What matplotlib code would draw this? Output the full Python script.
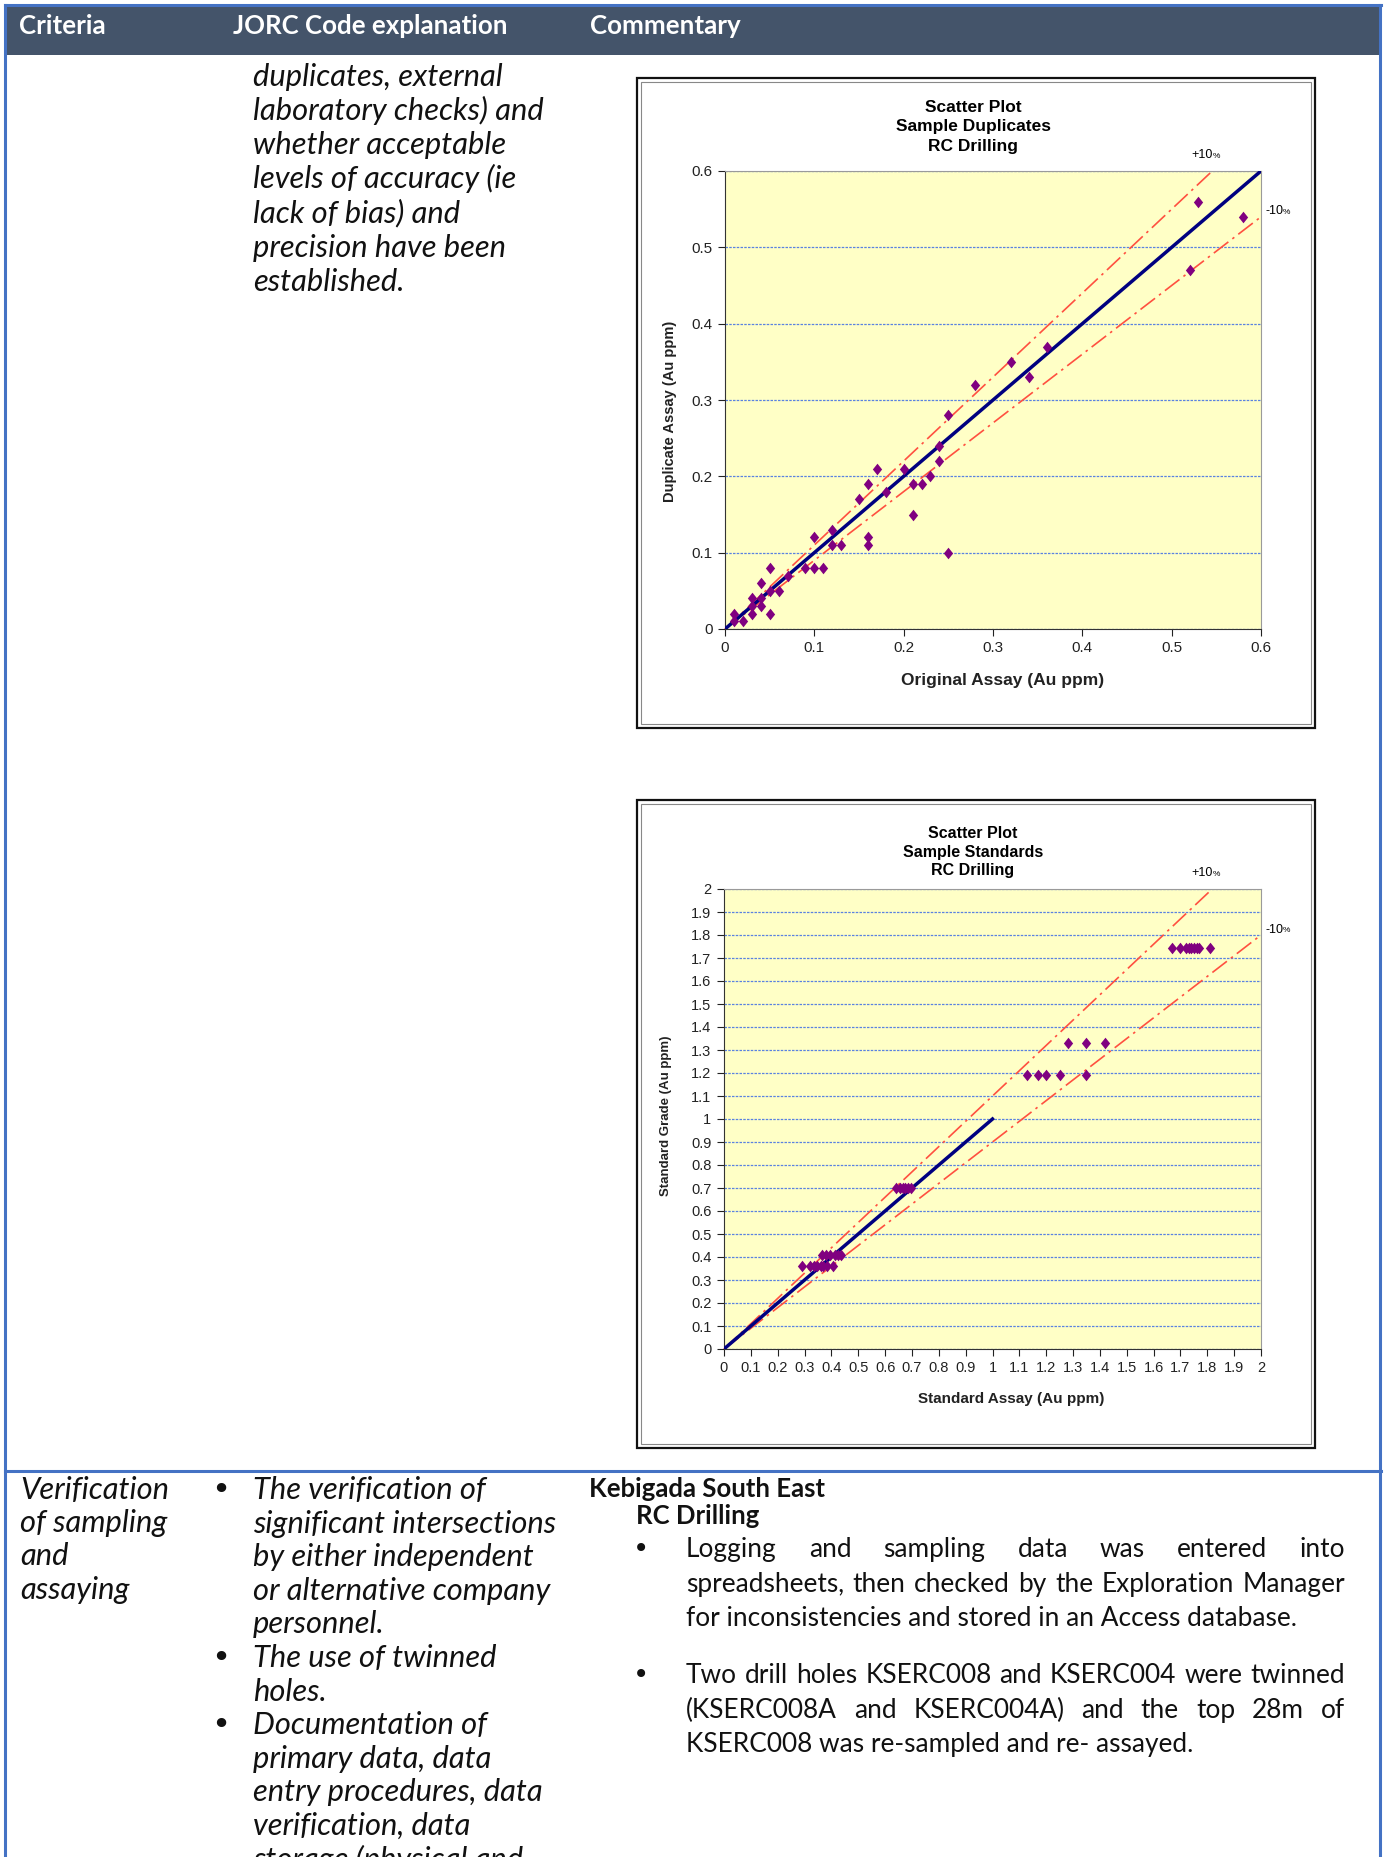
import matplotlib
matplotlib.use("Agg")
import matplotlib.pyplot as plt
from matplotlib.patches import Rectangle
from matplotlib.path import Path
from matplotlib.ticker import MultipleLocator, FuncFormatter
from matplotlib import font_manager

# ---- data ----
# Sample duplicates, RC drilling (Au ppm)
dup_original = [0.01, 0.01, 0.02, 0.03, 0.03, 0.03, 0.04, 0.04, 0.04, 0.05, 0.05, 0.05,
                0.06, 0.07, 0.09, 0.10, 0.10, 0.11, 0.12, 0.12, 0.13, 0.15, 0.16, 0.16,
                0.16, 0.17, 0.18, 0.20, 0.21, 0.21, 0.22, 0.23, 0.24, 0.24, 0.25, 0.25,
                0.28, 0.32, 0.34, 0.36, 0.52, 0.53, 0.58]
dup_duplicate = [0.02, 0.01, 0.01, 0.04, 0.03, 0.02, 0.06, 0.04, 0.03, 0.08, 0.05, 0.02,
                 0.05, 0.07, 0.08, 0.12, 0.08, 0.08, 0.13, 0.11, 0.11, 0.17, 0.19, 0.12,
                 0.11, 0.21, 0.18, 0.21, 0.19, 0.15, 0.19, 0.20, 0.22, 0.24, 0.28, 0.10,
                 0.32, 0.35, 0.33, 0.37, 0.47, 0.56, 0.54]

# Sample standards, RC drilling (Au ppm)
std_assay = [0.29, 0.32, 0.335, 0.345, 0.36, 0.37, 0.385, 0.405,
             0.365, 0.38, 0.395, 0.415, 0.425, 0.435,
             0.64, 0.655, 0.665, 0.675, 0.685, 0.695,
             1.13, 1.17, 1.20, 1.25, 1.35,
             1.28, 1.35, 1.42,
             1.67, 1.70, 1.72, 1.73, 1.74, 1.75, 1.76, 1.77, 1.81]
std_grade = [0.362] * 8 + [0.41] * 6 + [0.70] * 6 + [1.19] * 5 + [1.33] * 3 + [1.745] * 9

header_labels = ["Criteria", "JORC Code explanation", "Commentary"]

top_jorc_lines = ["duplicates, external", "laboratory checks) and", "whether acceptable",
                  "levels of accuracy (ie", "lack of bias) and", "precision have been",
                  "established."]

criteria_lines = ["Verification", "of sampling", "and", "assaying"]
jorc_bullets = [["The verification of", "significant intersections", "by either independent",
                 "or alternative company", "personnel."],
                ["The use of twinned", "holes."],
                ["Documentation of", "primary data, data", "entry procedures, data",
                 "verification, data", "storage (physical and"]]
comment_head = ["Kebigada South East", "RC Drilling"]
comment_bullets = [["Logging and sampling data was entered into",
                    "spreadsheets, then checked by the Exploration Manager",
                    "for inconsistencies and stored in an Access database."],
                   ["Two drill holes KSERC008 and KSERC004 were twinned",
                    "(KSERC008A and KSERC004A) and the top 28m of",
                    "KSERC008 was re-sampled and re- assayed."]]

W, H = 1385, 1857
fig = plt.figure(figsize=(W / 100, H / 100), dpi=100)
renderer = fig.canvas.get_renderer()

# canvas axes in pixel units, y down
cv = fig.add_axes([0, 0, 1, 1])
cv.set_xlim(0, W)
cv.set_ylim(H, 0)
cv.axis("off")

DOC = "Lato"
try:
    font_manager.findfont("Liberation Sans Narrow", fallback_to_default=False)
    NARROW = "Liberation Sans Narrow"
except Exception:
    NARROW = "Liberation Sans"


def fit_size(txt, target, **kw):
    t = cv.text(0, 0, txt, fontsize=10, **kw)
    w = t.get_window_extent(renderer).width
    t.remove()
    return 10 * target / w


def text_w(txt, **kw):
    t = cv.text(0, 0, txt, **kw)
    w = t.get_window_extent(renderer).width
    t.remove()
    return w


head_fs = fit_size("JORC Code explanation", 274, family=DOC, weight="bold")
ital_fs = fit_size("significant intersections", 303, family=DOC, style="italic")
body_fs = fit_size("spreadsheets, then checked by the Exploration Manager", 648, family=DOC)
bold_fs = fit_size("Kebigada South East", 236, family=DOC, weight="bold")

# ---- table frame ----
blue = "#4472C4"
cv.add_patch(Rectangle((5, 6), 1376, 49, facecolor="#44546A", edgecolor="none", zorder=1))
cv.plot([5, 1381], [5, 5], color=blue, lw=2.2, zorder=2)
cv.plot([5, 5], [5, H], color=blue, lw=2.2, zorder=2)
cv.plot([1380, 1380], [5, H], color=blue, lw=2.2, zorder=2)
cv.plot([5, 1381], [1471, 1471], color=blue, lw=2.2, zorder=2)

for lab, x in zip(header_labels, [19, 233, 590]):
    cv.text(x, 34, lab, family=DOC, weight="bold", fontsize=head_fs, color="white",
            va="baseline", ha="left", zorder=3)

# top row, second column (continued text)
for i, ln in enumerate(top_jorc_lines):
    cv.text(253, 86 + i * 34.1, ln, family=DOC, style="italic", fontsize=ital_fs,
            va="baseline", color="#111111")

# bottom row
for i, ln in enumerate(criteria_lines):
    cv.text(20, 1499 + i * 33.2, ln, family=DOC, style="italic", fontsize=ital_fs,
            va="baseline", color="#111111")

k = 0
for bl in jorc_bullets:
    for j, ln in enumerate(bl):
        y = 1499 + k * 33.6
        if j == 0:
            cv.text(221, y, "\u2022", family="DejaVu Sans", fontsize=ital_fs * 1.05,
                    va="baseline", ha="center", color="#111111")
        cv.text(253, y, ln, family=DOC, style="italic", fontsize=ital_fs,
                va="baseline", color="#111111")
        k += 1

cv.text(589, 1497, comment_head[0], family=DOC, weight="bold", fontsize=bold_fs,
        va="baseline", color="#111111")
cv.text(636, 1524, comment_head[1], family=DOC, weight="bold", fontsize=bold_fs,
        va="baseline", color="#111111")


def justify_line(ln, x0, x1, y, last):
    if last:
        cv.text(x0, y, ln, family=DOC, fontsize=body_fs, va="baseline", color="#111111")
        return
    words = ln.split()
    ws = [text_w(w, family=DOC, fontsize=body_fs) for w in words]
    gap = (x1 - x0 - sum(ws)) / (len(words) - 1)
    x = x0
    for w, ww in zip(words, ws):
        cv.text(x, y, w, family=DOC, fontsize=body_fs, va="baseline", color="#111111")
        x += ww + gap


for b, (bl, y0) in enumerate(zip(comment_bullets, [1557, 1683])):
    cv.text(641, y0, "\u2022", family="DejaVu Sans", fontsize=body_fs * 1.05,
            va="baseline", ha="center", color="#111111")
    for j, ln in enumerate(bl):
        justify_line(ln, 686, 1345, y0 + j * 34.6, j == len(bl) - 1)


# ---- embedded charts ----
diamond = Path([(0, 1), (0.8, 0), (0, -1), (-0.8, 0), (0, 1)],
               [Path.MOVETO, Path.LINETO, Path.LINETO, Path.LINETO, Path.CLOSEPOLY])


def px_axes(x0, y0, x1, y1):
    return fig.add_axes([x0 / W, 1 - y1 / H, (x1 - x0) / W, (y1 - y0) / H])


def chart_box(y0, y1):
    cv.add_patch(Rectangle((637, y0), 678, y1 - y0, facecolor="white", edgecolor="#111111",
                           lw=1.6, zorder=2))
    cv.add_patch(Rectangle((641, y0 + 4), 670, y1 - y0 - 8, facecolor="none",
                           edgecolor="#888888", lw=0.8, zorder=2))


def scatter_chart(ax, xs, ys, lim, one_line_end, tick_fs):
    ax.set_facecolor("#FFFFC6")
    ax.set_xlim(0, lim)
    ax.set_ylim(0, lim)
    ax.xaxis.set_major_locator(MultipleLocator(0.1))
    ax.yaxis.set_major_locator(MultipleLocator(0.1))
    fmt = FuncFormatter(lambda v, p: f"{round(v, 2):g}")
    ax.xaxis.set_major_formatter(fmt)
    ax.yaxis.set_major_formatter(fmt)
    ax.grid(axis="y", color="#5A82E0", lw=0.9, linestyle=(0, (2, 1)), zorder=1)
    ax.set_axisbelow(True)
    ax.tick_params(direction="out", length=5, width=0.8, labelsize=tick_fs, pad=4,
                   colors="#222222")
    for lab in ax.get_xticklabels() + ax.get_yticklabels():
        lab.set_family(NARROW)
    for s in ["top", "right"]:
        ax.spines[s].set_color("#9A9A9A")
    for s in ["left", "bottom"]:
        ax.spines[s].set_color("#333333")
    ax.plot([0, lim / 1.1], [0, lim], color="#FF5040", lw=1.2,
            linestyle=(0, (11, 3, 1.5, 3)), zorder=2, clip_on=False)
    ax.plot([0, lim], [0, 0.9 * lim], color="#FF5040", lw=1.2,
            linestyle=(0, (11, 3, 1.5, 3)), zorder=2, clip_on=False)
    ax.plot([0, one_line_end], [0, one_line_end], color="#000080", lw=2.5, zorder=3)
    ax.scatter(xs, ys, marker=diamond, s=70, color="#800080", zorder=4, linewidths=0)


def chart_texts(title_lines, ty, title_fs, xlab, xlab_x, xlab_y, ylab, ylab_x, ylab_y,
                lab_fs, ylab_fs, plus_y, minus_y):
    for ln, y in zip(title_lines, ty):
        cv.text(973, y, ln, family=NARROW, weight="bold", fontsize=title_fs, ha="center",
                va="center", zorder=5)
    cv.text(xlab_x, xlab_y, xlab, family=NARROW, weight="bold", fontsize=lab_fs,
            ha="center", va="center", zorder=5, color="#222222")
    cv.text(ylab_x, ylab_y, ylab, family="Liberation Sans", weight="bold", fontsize=ylab_fs,
            ha="center", va="center", rotation=90, zorder=5, color="#222222")
    cv.text(1213, plus_y, "+10", family=NARROW, fontsize=9, ha="right", va="center", zorder=5)
    cv.text(1213, plus_y + 1, "%", family=NARROW, fontsize=6, ha="left", va="center", zorder=5)
    cv.text(1283, minus_y, "-10", family=NARROW, fontsize=9, ha="right", va="center", zorder=5)
    cv.text(1283, minus_y + 1, "%", family=NARROW, fontsize=6, ha="left", va="center", zorder=5)


chart_box(78, 728)
ax1 = px_axes(725, 171, 1261, 629)
scatter_chart(ax1, dup_original, dup_duplicate, 0.6, 0.6, 11)
chart_texts(["Scatter Plot", "Sample Duplicates", "RC Drilling"], [107, 127, 146], 12.5,
            "Original Assay (Au ppm)", 1003, 681, "Duplicate Assay (Au ppm)", 670, 411,
            12.5, 10.5, 155, 211)

chart_box(800, 1448)
ax2 = px_axes(724, 889, 1261, 1349)
scatter_chart(ax2, std_assay, std_grade, 2.0, 1.0, 10.5)
chart_texts(["Scatter Plot", "Sample Standards", "RC Drilling"], [833, 852, 870], 11.5,
            "Standard Assay (Au ppm)", 1011, 1399, "Standard Grade (Au ppm)", 666, 1116,
            11, 9.5, 873, 930)

fig.savefig("out.png", dpi=100)
